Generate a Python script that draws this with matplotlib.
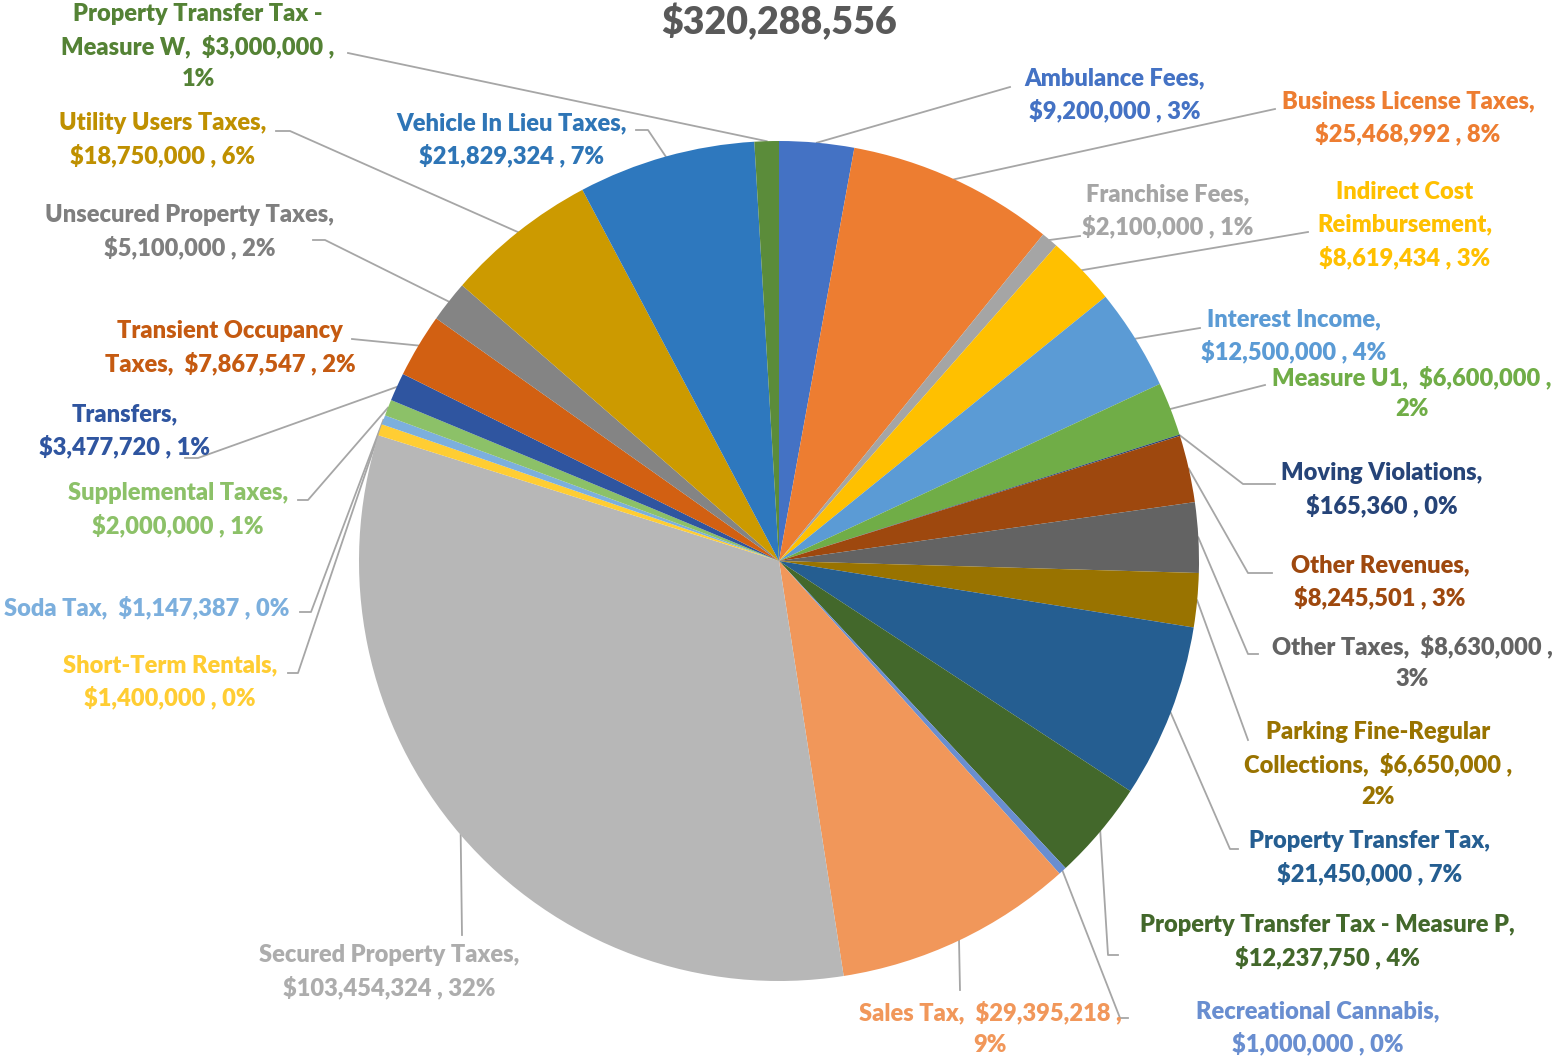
import matplotlib
matplotlib.use("Agg")
import matplotlib.pyplot as plt
import numpy as np

# revenue categories, in slice order (clockwise from 12 o'clock)
names = [
    "Ambulance Fees", "Business License Taxes", "Franchise Fees",
    "Indirect Cost\nReimbursement", "Interest Income", "Measure U1",
    "Moving Violations", "Other Revenues", "Other Taxes",
    "Parking Fine-Regular\nCollections", "Property Transfer Tax",
    "Property Transfer Tax - Measure P", "Recreational Cannabis", "Sales Tax",
    "Secured Property Taxes", "Short-Term Rentals", "Soda Tax",
    "Supplemental Taxes", "Transfers", "Transient Occupancy\nTaxes",
    "Unsecured Property Taxes", "Utility Users Taxes", "Vehicle In Lieu Taxes",
    "Property Transfer Tax -\nMeasure W",
]
amounts = [
    9200000, 25468992, 2100000, 8619434, 12500000, 6600000, 165360, 8245501,
    8630000, 6650000, 21450000, 12237750, 1000000, 29395218, 103454324,
    1400000, 1147387, 2000000, 3477720, 7867547, 5100000, 18750000, 21829324,
    3000000,
]
colors = [
    "#4472C4", "#ED7D31", "#A5A5A5", "#FFC000", "#5B9BD5", "#70AD47",
    "#264478", "#9E480E", "#636363", "#997300", "#255E91", "#43682B",
    "#698ED0", "#F1975A", "#B7B7B7", "#FFCD33", "#7CAFDD", "#8CC168",
    "#2F55A0", "#D26012", "#848484", "#CC9A00", "#2E78BE", "#5B8C3A",
]
text_colors = list(colors)
text_colors[14] = "#ADADAD"
text_colors[20] = "#7F7F7F"
text_colors[21] = "#BF9000"
text_colors[19] = "#C55A11"
text_colors[22] = "#2E75B6"
text_colors[23] = "#548235"
total_label = "$320,288,556"

# label layout: style a = "name,\nvalue , pct", b = "name,  value ,\npct", c = one line
# (x centre, y of first line, style, leader-line points from label side)
layout = [
    (1115, 78, "a", [(1010, 87)]),
    (1408, 101, "a", [(1275, 109)]),
    (1168, 194, "a", [(1080, 236)]),
    (1405, 192, "a", [(1308, 232)]),
    (1294, 319, "a", [(1200, 328)]),
    (1412, 377, "b", [(1265, 385)]),
    (1382, 473, "a", [(1275, 484), (1243, 484)]),
    (1380, 565, "a", [(1272, 573), (1248, 573)]),
    (1412, 646, "b", [(1258, 654), (1248, 654)]),
    (1378, 732, "b", [(1248, 740)]),
    (1370, 841, "a", [(1238, 849), (1230, 849)]),
    (1327, 925, "a", [(1118, 955), (1108, 955)]),
    (1318, 1011, "a", [(1128, 1018), (1120, 1018)]),
    (990, 1012, "b", [(960, 990)]),
    (389, 955, "a", [(462, 935)]),
    (170, 665, "a", [(288, 673), (298, 673)]),
    (147, 607, "c", [(300, 612), (311, 612)]),
    (178, 493, "a", [(298, 500), (308, 500)]),
    (125, 414, "a", [(185, 458), (198, 458)]),
    (230, 331, "c", [(352, 339)]),
    (190, 215, "a", [(313, 240), (325, 240)]),
    (163, 123, "a", [(276, 131), (290, 131)]),
    (512, 123, "a", [(636, 130), (648, 130)]),
    (198, 14, "b", [(348, 53)]),
]

W, H = 1558, 1058
cx, cy, r = 779, 561, 420
tot = sum(amounts)

fig = plt.figure(figsize=(W / 100, H / 100), dpi=100)
ax = fig.add_axes([0, 0, 1, 1])
ax.pie(amounts, colors=colors, startangle=-90, counterclock=True,
       center=(cx, cy), radius=r, wedgeprops=dict(linewidth=0))
ax.set_xlim(0, W)
ax.set_ylim(H, 0)
ax.set_aspect("equal")
ax.axis("off")

font = dict(family=["Lato", "DejaVu Sans"], fontweight="heavy", fontsize=17)

ax.text(cx, 21, total_label, ha="center", va="center", color="#595959",
        family=["Lato", "DejaVu Sans"], fontweight="heavy", fontsize=27)

cum = 0
for i, (name, amt) in enumerate(zip(names, amounts)):
    mid = np.deg2rad(-90 + 360 * (cum + amt / 2) / tot)
    cum += amt
    ex, ey = cx + r * np.cos(mid), cy + r * np.sin(mid)
    x, y0, style, pts = layout[i]
    val = f"${amt:,}"
    pct = f"{round(100 * amt / tot)}%"
    if style == "a":
        txt = f"{name},\n{val} , {pct}"
    elif style == "b":
        txt = f"{name},  {val} ,\n{pct}"
    else:
        txt = f"{name},  {val} , {pct}"
    for k, line in enumerate(txt.split("\n")):
        ax.text(x, y0 + 32.5 * k, line, ha="center", va="center",
                color=text_colors[i], **font)
    xs = [p[0] for p in pts] + [ex]
    ys = [p[1] for p in pts] + [ey]
    ax.plot(xs, ys, color="#A6A6A6", lw=1.3, zorder=0.5)

fig.savefig("out.png", dpi=100)
